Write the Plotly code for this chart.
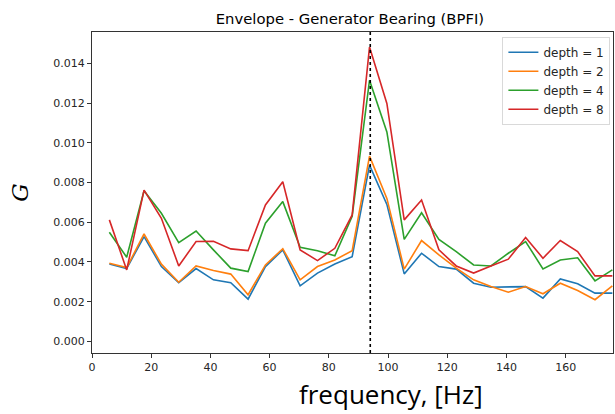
import plotly.graph_objects as go

freq = [5.86, 11.72, 17.58, 23.44, 29.30, 35.16, 41.02, 46.88, 52.73, 58.59,
        64.45, 70.31, 76.17, 82.03, 87.89, 93.75, 99.61, 105.47, 111.33, 117.19,
        123.05, 128.91, 134.77, 140.63, 146.48, 152.34, 158.20, 164.06, 169.92, 175.78]

depth1 = [0.0039, 0.00367, 0.00528, 0.00377, 0.00296, 0.00367, 0.0031, 0.00296, 0.00213, 0.00377,
          0.00461, 0.0028, 0.00344, 0.0039, 0.00427, 0.00888, 0.0069, 0.0034, 0.00444, 0.00377,
          0.00364, 0.00293, 0.00273, 0.00273, 0.00276, 0.00218, 0.00315, 0.0029, 0.00243, 0.00243]
depth2 = [0.00394, 0.00372, 0.00541, 0.00389, 0.00298, 0.0038, 0.00357, 0.00339, 0.00235, 0.00385,
          0.00467, 0.0031, 0.00377, 0.0041, 0.00457, 0.00933, 0.0072, 0.00364, 0.00508, 0.00436,
          0.00369, 0.0031, 0.00276, 0.00248, 0.00276, 0.0024, 0.00293, 0.00256, 0.0021, 0.0028]
depth4 = [0.0055, 0.00424, 0.00759, 0.00645, 0.00497, 0.00556, 0.00461, 0.00369, 0.00352, 0.00595,
          0.00704, 0.00474, 0.00457, 0.00431, 0.0063, 0.01315, 0.01055, 0.00514, 0.00648, 0.00514,
          0.00452, 0.00385, 0.0038, 0.00444, 0.00503, 0.00365, 0.0041, 0.00421, 0.00305, 0.0036]
depth8 = [0.00612, 0.0036, 0.00762, 0.0062, 0.0038, 0.00503, 0.00504, 0.00466, 0.00457, 0.00687,
          0.00804, 0.00461, 0.00407, 0.00469, 0.00637, 0.01482, 0.01198, 0.00612, 0.00712, 0.00461,
          0.0038, 0.00344, 0.0038, 0.00414, 0.00523, 0.00419, 0.00508, 0.00452, 0.0033, 0.0033]

series = [("depth = 1", depth1, "#1f77b4"),
          ("depth = 2", depth2, "#ff7f0e"),
          ("depth = 4", depth4, "#2ca02c"),
          ("depth = 8", depth8, "#d62728")]

bpfi = 94.0

fig = go.Figure()
for name, vals, col in series:
    fig.add_trace(go.Scatter(x=freq, y=vals, mode="lines", name=name,
                             line=dict(color=col, width=1.6)))

fig.add_shape(type="line", x0=bpfi, x1=bpfi, y0=0, y1=1, xref="x", yref="paper",
              line=dict(color="black", width=1.6, dash="dot"))

# x-axis label placed as in the reference (slightly right of centre)
fig.add_annotation(text="frequency, [Hz]", xref="paper", yref="paper",
                   x=(391 - 92) / 521, y=-(394 - 353) / 321, xanchor="center", yanchor="middle",
                   showarrow=False, font=dict(family="Open Sans", size=26, color="black"))

tickfont = dict(family="DejaVu Sans", size=11, color="#262626")
fig.update_layout(
    width=615, height=414,
    margin=dict(l=92, r=2, t=32, b=61),
    paper_bgcolor="white", plot_bgcolor="white",
    title=dict(text="Envelope - Generator Bearing (BPFI)", x=0.569, xanchor="center",
               y=0.955, yanchor="middle",
               font=dict(family="DejaVu Sans", size=14.8, color="black")),
    showlegend=True,
    legend=dict(x=0.995, y=0.985, xanchor="right", yanchor="top",
                bgcolor="white", bordercolor="#d9d9d9", borderwidth=1,
                font=dict(family="DejaVu Sans", size=12, color="#262626"),
                tracegroupgap=0, itemwidth=30),
    xaxis=dict(range=[0, 176], tickvals=[0, 20, 40, 60, 80, 100, 120, 140, 160],
               ticks="outside", ticklen=4, tickcolor="#333", showgrid=False,
               zeroline=False, showline=True, linecolor="#333", linewidth=1, mirror=True,
               tickfont=tickfont),
    yaxis=dict(range=[-0.000583, 0.01558],
               tickvals=[0, 0.002, 0.004, 0.006, 0.008, 0.010, 0.012, 0.014],
               tickformat=".3f",
               ticks="outside", ticklen=4, tickcolor="#333", showgrid=False,
               zeroline=False, showline=True, linecolor="#333", linewidth=1, mirror=True,
               tickfont=tickfont,
               title=dict(text="<i>G</i>", standoff=18,
                          font=dict(family="DejaVu Serif", size=23, color="black"))),
)

fig.write_html("out.html")
